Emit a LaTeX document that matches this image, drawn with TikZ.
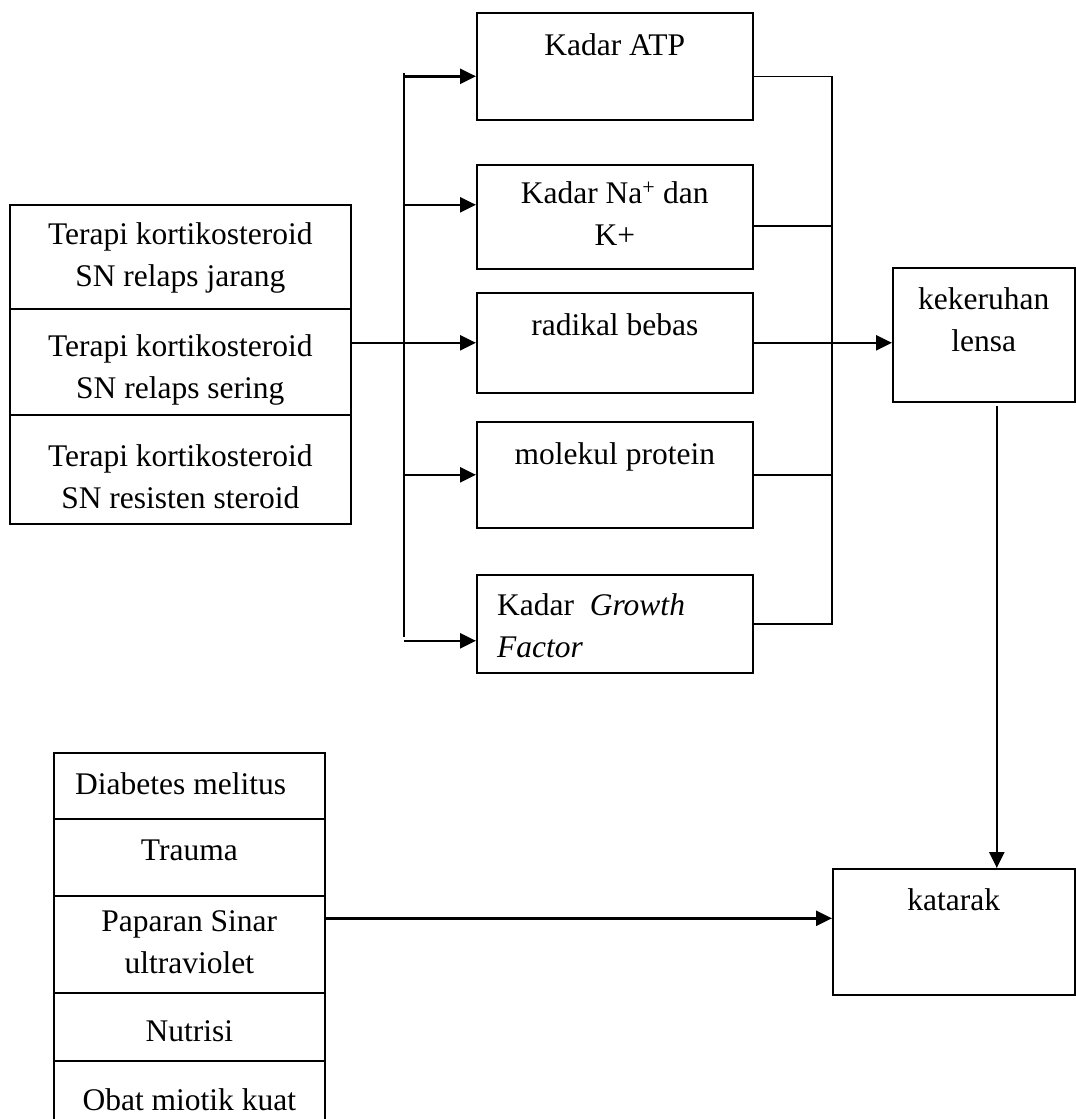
\documentclass[tikz,border=0pt]{standalone}
\usepackage{fontspec}
\setmainfont{Liberation Serif}
\usetikzlibrary{positioning,arrows.meta}
\tikzset{>={Triangle[length=16pt,width=15pt]}}
\tikzset{
  box/.style={draw, line width=1.6pt, anchor=north west, inner sep=0pt},
  txt/.style={inner sep=0pt, align=center, font=\fontsize{31.5}{42}\selectfont},
  arr/.style={->, line width=2.4pt},
  link/.style={line width=1.5pt},
}

\begin{document}
\begin{tikzpicture}[x=1pt,y=-1pt]
  \path[use as bounding box] (0,0) rectangle (1076,1119);
  \clip (0,0) rectangle (1076,1119);

  \node[box, minimum width=341pt, minimum height=104pt] (jarang) at (9,204) {};
  \node[box, minimum width=341pt, minimum height=106pt] (sering) at (9,308) {};
  \node[box, minimum width=341pt, minimum height=109pt] (resisten) at (9,414) {};
  \node[txt, below=18pt of jarang.north] (jarangtxt) {Terapi kortikosteroid\\SN relaps jarang};
  \node[txt, below=26pt of sering.north] (seringtxt) {Terapi kortikosteroid\\SN relaps sering};
  \node[txt, below=30pt of resisten.north] (resistentxt) {Terapi kortikosteroid\\SN resisten steroid};

  \node[box, minimum width=276pt, minimum height=107pt] (atp) at (476,12) {};
  \node[box, minimum width=276pt, minimum height=104pt] (na) at (476,164) {};
  \node[box, minimum width=276pt, minimum height=100pt] (rad) at (476,292) {};
  \node[box, minimum width=276pt, minimum height=106pt] (prot) at (476,421) {};
  \node[box, minimum width=276pt, minimum height=98pt] (gf) at (476,574) {};
  \node[txt, below=21pt of atp.north] (atptxt) {Kadar ATP};
  \node[txt, below=17pt of na.north] (natxt) {Kadar Na\textsuperscript{+} dan\\K+};
  \node[txt, below=21pt of rad.north] (radtxt) {radikal bebas};
  \node[txt, below=21pt of prot.north] (prottxt) {molekul protein};
  \node[txt, align=left, below right=19pt and 21pt of gf.north west] (gftxt)
    {Kadar~ \textit{Growth}\\\textit{Factor}};

  \node[box, minimum width=182pt, minimum height=134pt] (keruh) at (892,267) {};
  \node[txt, below=20pt of keruh.north] (keruhtxt) {kekeruhan\\lensa};
  \node[box, minimum width=242pt, minimum height=126pt] (katarak) at (832,868) {};
  \node[txt, below=20pt of katarak.north] (katataktxt) {katarak};

  \node[box, minimum width=271pt, minimum height=66pt] (diabetes) at (53,752) {};
  \node[box, minimum width=271pt, minimum height=77pt] (trauma) at (53,818) {};
  \node[box, minimum width=271pt, minimum height=97pt] (paparan) at (53,895) {};
  \node[box, minimum width=271pt, minimum height=68pt] (nutrisi) at (53,992) {};
  \node[box, minimum width=271pt, minimum height=80pt] (obat) at (53,1060) {};
  \node[txt, align=left, below right=20pt and 22pt of diabetes.north west] (diabetestxt) {Diabetes melitus};
  \node[txt, below=22pt of trauma.north] (traumatxt) {Trauma};
  \node[txt, below=15pt of paparan.north] (paparantxt) {Paparan Sinar\\ultraviolet};
  \node[txt, below=28pt of nutrisi.north] (nutrisitxt) {Nutrisi};
  \node[txt, below=28pt of obat.north] (obattxt) {Obat miotik kuat};

  \coordinate (lbus) at (404,73);
  \coordinate (lbusend) at (404,637);
  \coordinate (rbus) at (832,76);
  \coordinate (atpin) at ([yshift=-10pt]atp.west);
  \coordinate (nain) at ([yshift=12pt]na.west);
  \coordinate (gfin) at ([yshift=-17pt]gf.west);
  \coordinate (atpout) at ([yshift=-10pt]atp.east);
  \coordinate (naout) at ([yshift=-9pt]na.east);
  \coordinate (keruhout) at ([xshift=13pt,yshift=-3pt]keruh.south);
  \coordinate (paparanout) at ([yshift=26pt]paparan.east);

  \draw[link] (lbus) -- (lbusend);
  \draw[arr] (sering.east |- rad.west) -- (rad.west);
  \draw[arr] (lbus |- atpin) -- (atpin);
  \draw[arr] (lbus |- nain) -- (nain);
  \draw[arr] (lbus |- prot.west) -- (prot.west);
  \draw[arr] (lbus |- gfin) -- (gfin);

  \draw[link] (atpout) -- (rbus |- atpout) -- (rbus |- gf.east) -- (gf.east);
  \draw[link] (naout) -- (rbus |- naout);
  \draw[link] (prot.east) -- (rbus |- prot.east);
  \draw[arr] (rad.east) -- (rad.east -| keruh.west);

  \draw[arr] (keruhout) -- (keruhout |- katarak.north);
  \draw[arr] (paparanout) -- (paparanout -| katarak.west);
\end{tikzpicture}
\end{document}
